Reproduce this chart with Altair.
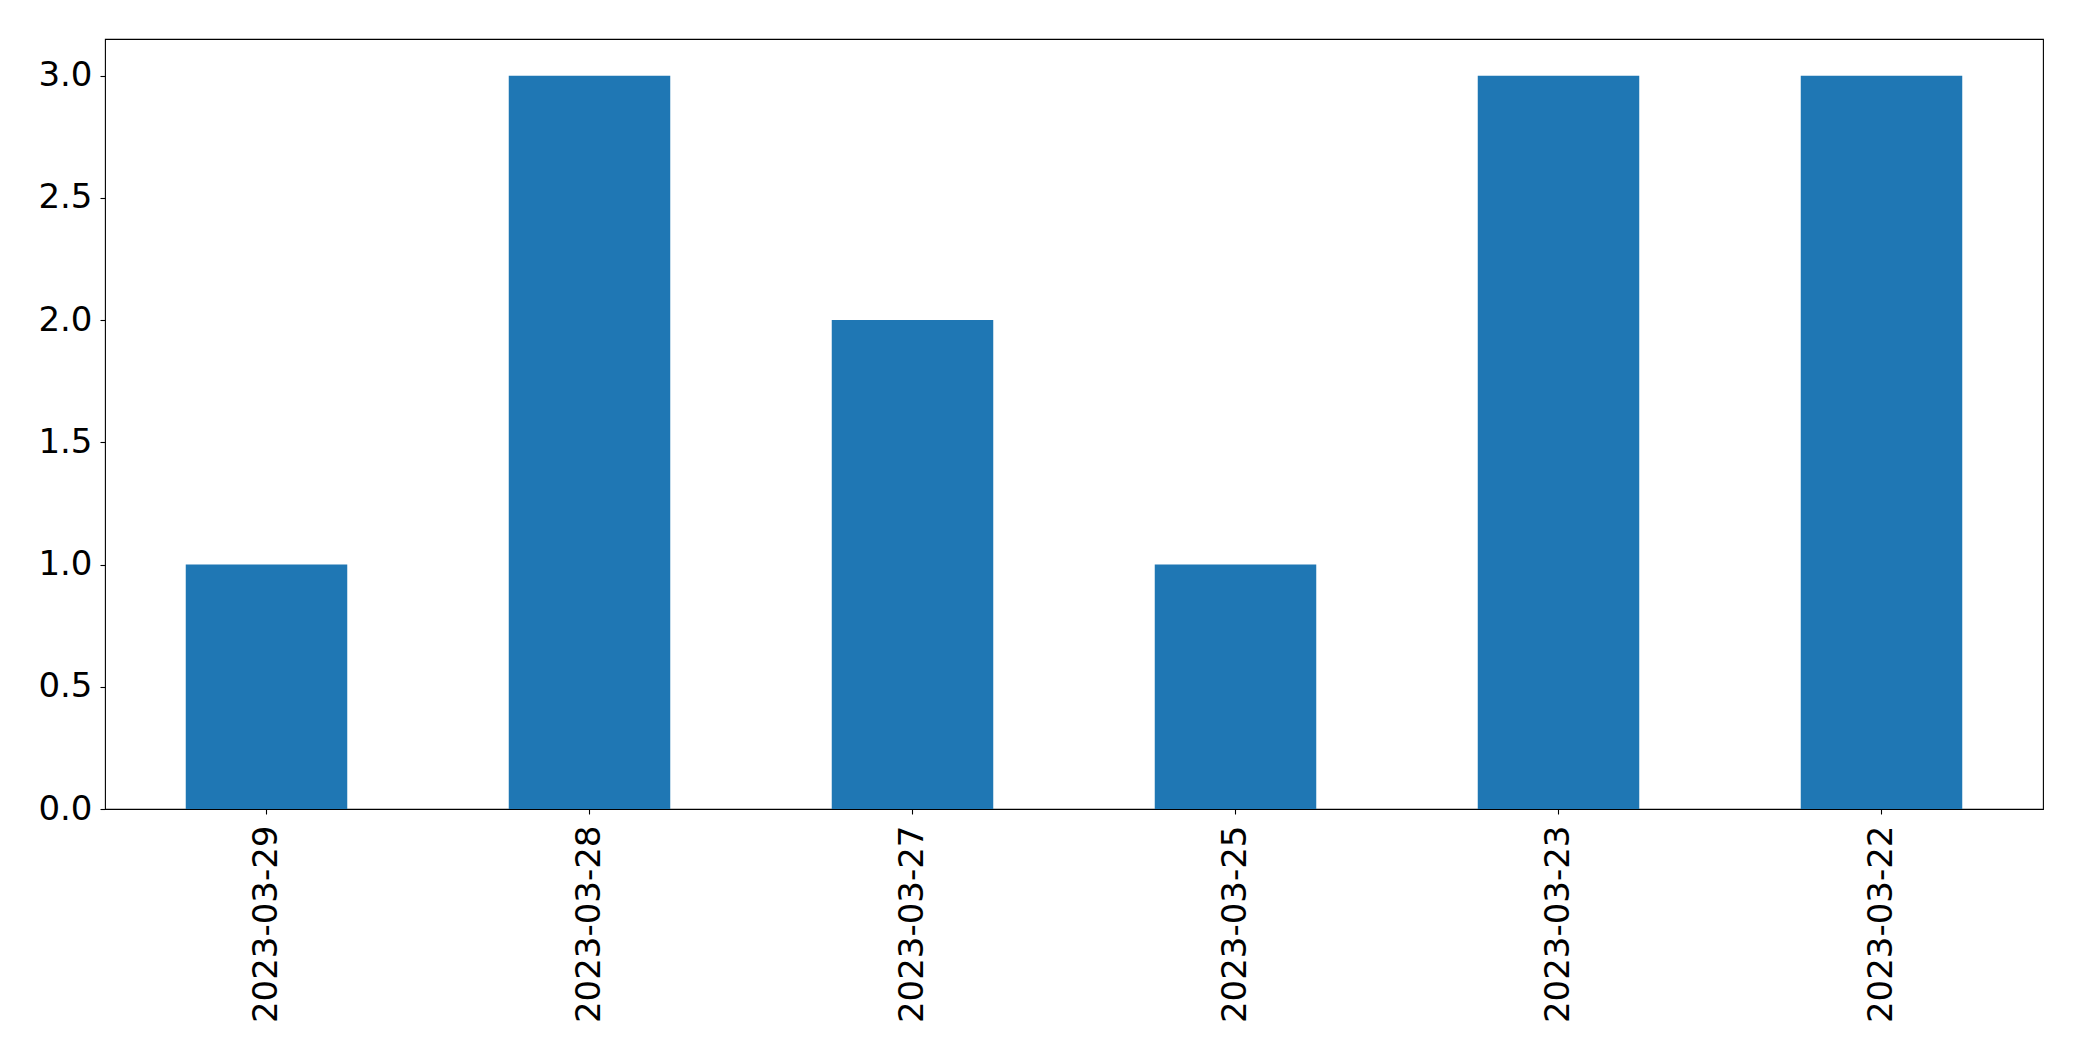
import altair as alt
import pandas as pd

dates = ["2023-03-29", "2023-03-28", "2023-03-27", "2023-03-25", "2023-03-23", "2023-03-22"]
counts = [1, 3, 2, 1, 3, 3]
y_ticks = [0.0, 0.5, 1.0, 1.5, 2.0, 2.5, 3.0]

df = pd.DataFrame({"date": dates, "count": counts})

FONT = "DejaVu Sans"
FS = 34

chart = (
    alt.Chart(df)
    .mark_bar(color="#1f77b4")
    .encode(
        x=alt.X(
            "date:N",
            sort=dates,
            title=None,
            scale=alt.Scale(paddingInner=0.5, paddingOuter=0.25),
            axis=alt.Axis(
                labelAngle=270,
                labelFont=FONT,
                labelFontSize=FS,
                labelColor="black",
                labelPadding=11,
                labelLimit=0,
                tickSize=5,
                tickColor="black",
                tickWidth=1.1,
                domain=False,
                grid=False,
            ),
        ),
        y=alt.Y(
            "count:Q",
            title=None,
            scale=alt.Scale(domain=[0, 3.15], nice=False),
            axis=alt.Axis(
                values=y_ticks,
                format=".1f",
                labelFont=FONT,
                labelFontSize=FS,
                labelColor="black",
                labelPadding=8,
                tickSize=5,
                tickColor="black",
                tickWidth=1.1,
                domain=False,
                grid=False,
            ),
        ),
    )
    .properties(
        width=1938,
        height=770,
        autosize=alt.AutoSizeParams(type="none"),
        padding={"left": 97, "top": 31, "right": 31, "bottom": 244},
        background="white",
    )
    .configure_view(stroke="black", strokeWidth=1.1)
)

chart.save("out.html", embed_options={"renderer": "svg", "actions": False})
